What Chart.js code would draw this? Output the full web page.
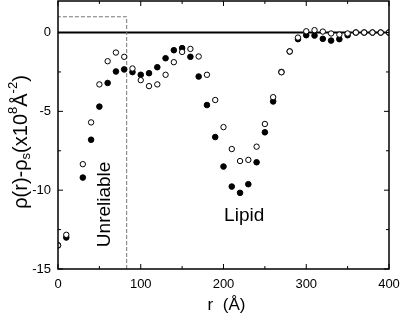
<!DOCTYPE html>
<html>
<head>
<meta charset="utf-8">
<script src="https://cdn.jsdelivr.net/npm/chart.js@4"></script>
<style>
  html, body { margin: 0; padding: 0; background: #fff; }
  #wrap { width: 400px; height: 320px; }
</style>
</head>
<body>
<div id="wrap"><canvas id="profile"></canvas></div>
<script>
// r positions (Angstrom) shared by both series
const rValues = [0, 10, 30, 40, 50, 60, 70, 80, 90, 100,
  110, 120, 130, 140, 150, 160, 170, 180, 190, 200,
  210, 220, 230, 240, 250, 260, 270, 280, 290, 300,
  310, 320, 330, 340, 350, 360, 370, 380, 390, 400];

// filled circles
const filledRho = [-13.5, -13.0, -9.2, -6.8, -4.7, -3.2, -2.47, -2.34, -2.51, -2.68,
  -2.58, -2.2, -1.63, -1.12, -0.99, -1.54, -2.79, -4.6, -6.63, -8.5,
  -9.77, -10.17, -9.62, -8.23, -6.33, -4.37, -2.5, -1.2, -0.42, -0.17,
  -0.19, -0.4, -0.51, -0.42, -0.17, 0, 0, 0, 0, 0];

// open circles
const openRho = [-13.5, -12.83, -8.35, -5.7, -3.29, -1.82, -1.27, -1.54, -2.28, -3.02,
  -3.4, -3.29, -2.68, -1.88, -1.23, -1.04, -1.52, -2.68, -4.28, -6.0,
  -7.39, -8.15, -8.08, -7.24, -5.8, -4.1, -2.52, -1.2, -0.32, 0.08,
  0.15, 0.06, -0.06, -0.13, -0.06, 0, 0, 0, 0, 0];

const xTicks = [0, 100, 200, 300, 400];
const yTicks = [-15, -10, -5, 0];

// "unreliable" region boundary
const unreliableR = 83;
const unreliableTop = 1;

const FONT = '"Liberation Sans", Arial, sans-serif';

function toPoints(ys) {
  return rValues.map((r, i) => ({ x: r, y: ys[i] }));
}

function noPad(s) {
  s.paddingTop = 0; s.paddingBottom = 0; s.paddingLeft = 0; s.paddingRight = 0;
}

// frame with inward ticks, axis titles and notes
const decorations = {
  id: 'decorations',
  afterDraw(chart) {
    const ctx = chart.ctx;
    const a = chart.chartArea;
    const xs = chart.scales.x;
    const ys = chart.scales.y;
    ctx.save();
    ctx.strokeStyle = '#000';
    ctx.lineWidth = 1.5;
    ctx.strokeRect(a.left, a.top, a.right - a.left, a.bottom - a.top);

    ctx.lineWidth = 1;
    ctx.beginPath();
    for (let v = 0; v <= 400; v += 50) {
      const px = xs.getPixelForValue(v);
      const len = v % 100 === 0 ? 5 : 3;
      ctx.moveTo(px, a.bottom); ctx.lineTo(px, a.bottom - len);
      ctx.moveTo(px, a.top); ctx.lineTo(px, a.top + len);
    }
    for (let v = -15; v <= 0; v += 2.5) {
      const py = ys.getPixelForValue(v);
      const len = v % 5 === 0 ? 5 : 3;
      ctx.moveTo(a.left, py); ctx.lineTo(a.left + len, py);
      ctx.moveTo(a.right, py); ctx.lineTo(a.right - len, py);
    }
    ctx.stroke();

    ctx.fillStyle = '#000';
    // x title
    ctx.font = '17px ' + FONT;
    ctx.textAlign = 'center';
    ctx.textBaseline = 'middle';
    ctx.fillText('r  (\u00c5)', (a.left + a.right) / 2 + 3, 305);

    // y title with sub/superscripts
    const parts = [
      { t: '\u03c1(r)-\u03c1', size: 20, dy: 0 },
      { t: 's', size: 13, dy: 5 },
      { t: '(x10', size: 20, dy: 0 },
      { t: '8', size: 13, dy: -8 },
      { t: '\u00c5', size: 20, dy: 0 },
      { t: '-2', size: 13, dy: -8 },
      { t: ')', size: 20, dy: 0 }
    ];
    let total = 0;
    parts.forEach(p => { ctx.font = p.size + 'px ' + FONT; p.w = ctx.measureText(p.t).width; total += p.w; });
    ctx.translate(21, 142);
    ctx.rotate(-Math.PI / 2);
    ctx.textAlign = 'left';
    ctx.textBaseline = 'middle';
    let cx = -total / 2;
    parts.forEach(p => {
      ctx.font = p.size + 'px ' + FONT;
      ctx.fillText(p.t, cx, p.dy);
      cx += p.w;
    });
    ctx.restore();

    // notes
    ctx.save();
    ctx.fillStyle = '#000';
    ctx.font = '19px ' + FONT;
    ctx.textAlign = 'center';
    ctx.textBaseline = 'middle';
    ctx.fillText('Lipid', xs.getPixelForValue(225), ys.getPixelForValue(-11.6));
    ctx.translate(xs.getPixelForValue(56), ys.getPixelForValue(-10.9));
    ctx.rotate(-Math.PI / 2);
    ctx.fillText('Unreliable', 0, 0);
    ctx.restore();
  }
};

new Chart(document.getElementById('profile').getContext('2d'), {
  type: 'scatter',
  data: {
    datasets: [
      {
        label: 'open',
        data: toPoints(openRho),
        pointRadius: 2.7,
        pointBorderWidth: 1,
        pointBackgroundColor: '#fff',
        pointBorderColor: '#000',
        showLine: false
      },
      {
        label: 'filled',
        data: toPoints(filledRho),
        pointRadius: 2.8,
        pointBorderWidth: 1,
        pointBackgroundColor: '#000',
        pointBorderColor: '#000',
        showLine: false
      },
      {
        label: 'unreliable',
        data: [{ x: unreliableR, y: -15 }, { x: unreliableR, y: unreliableTop }, { x: 0, y: unreliableTop }],
        showLine: true,
        borderColor: '#777',
        borderWidth: 1,
        borderDash: [4, 2],
        pointRadius: 0,
        fill: false
      },
      {
        label: 'zero',
        data: [{ x: 0, y: 0 }, { x: 400, y: 0 }],
        showLine: true,
        borderColor: '#000',
        borderWidth: 2,
        pointRadius: 0,
        fill: false
      }
    ]
  },
  options: {
    responsive: true,
    maintainAspectRatio: false,
    animation: false,
    events: [],
    layout: { autoPadding: false, padding: { left: 0, right: 11, top: 1, bottom: 0 } },
    plugins: {
      legend: { display: false },
      tooltip: { enabled: false }
    },
    scales: {
      x: {
        type: 'linear',
        min: 0,
        max: 400,
        afterBuildTicks: s => { s.ticks = xTicks.map(v => ({ value: v })); },
        afterFit: s => { s.height = 51; noPad(s); },
        grid: { display: false, drawTicks: false },
        border: { display: false },
        ticks: { color: '#000', font: { family: FONT, size: 13 }, padding: 8, maxRotation: 0 }
      },
      y: {
        type: 'linear',
        min: -15,
        max: 2,
        afterBuildTicks: s => { s.ticks = yTicks.map(v => ({ value: v })); },
        afterFit: s => { s.width = 58; noPad(s); },
        grid: { display: false, drawTicks: false },
        border: { display: false },
        ticks: { color: '#000', font: { family: FONT, size: 13 }, padding: 7 }
      }
    }
  },
  plugins: [decorations]
});
</script>
</body>
</html>
